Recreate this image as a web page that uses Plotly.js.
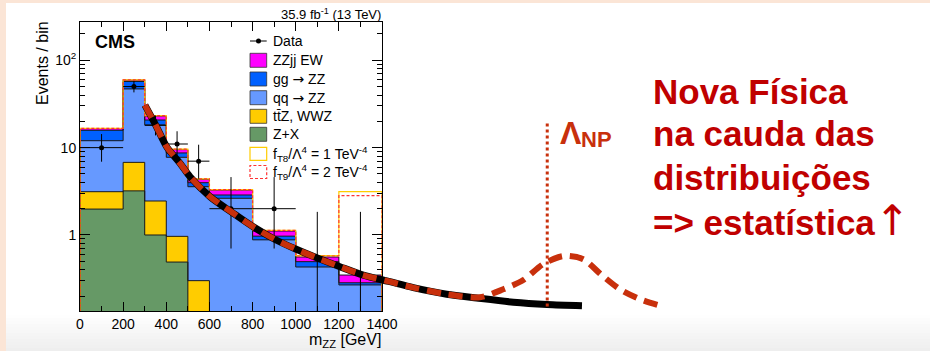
<!DOCTYPE html>
<html>
<head>
<meta charset="utf-8">
<script src="https://cdn.plot.ly/plotly-3.0.1.min.js"></script>
<style>html,body{margin:0;padding:0;background:#fff;}#plot{width:930px;height:351px;}</style>
</head>
<body>
<div id="plot"></div>
<script>
// ---------- data ----------
const binEdges = [0, 200, 300, 400, 500, 600, 800, 1000, 1200, 1400];
// stacked contributions (events / bin), bottom to top
const zPlusX   = [1.98, 3.2, 1.0, 0.49, 0, 0, 0, 0, 0];
const ttZWWZ   = [1.15, 3.58, 1.45, 0.475, 0.30, 0, 0, 0, 0];
const qqZZ     = [8.87, 40.2, 15.75, 6.78, 3.27, 2.63, 0.88, 0.43, 0.268];
const ggZZ     = [3.8, 10.2, 2.5, 0.95, 0.40, 0.24, 0.09, 0.065, 0.016];
const zzjjEW   = [0.7, 2.1, 2.3, 0.8, 0.37, 0.40, 0.14, 0.065, 0.064];
// aTGC signal hypotheses (total prediction)
const fT8      = [16.6, 59.5, 23.2, 9.6, 4.4, 3.3, 1.13, 0.58, 3.13];
const fT9      = [16.6, 59.5, 23.2, 9.6, 4.4, 3.3, 1.13, 0.575, 2.82];
// data
const dataX    = [100, 250, 350, 450, 550, 700, 900, 1100, 1300];
const dataY    = [10, 50, 18, 11, 7, 2, 2, 0, 0];
const dataErrUp= [4.3, 8.1, 5.3, 4.4, 3.8, 2.6, 2.6, 1.84, 1.84];
const dataErrDn= [3.1, 7.1, 4.2, 3.3, 2.6, 1.3, 1.3, 0, 0];
// hand-drawn overlay curves (m_ZZ in GeV, events)
const smX = [301, 355, 402, 464, 510, 603, 711, 803, 900, 1000, 1100, 1205, 1313, 1437, 1545, 1700, 1839, 2009, 2165, 2327];
const smY = [30.6, 17.3, 10.2, 6.6, 4.64, 2.74, 1.77, 1.24, 0.9, 0.69, 0.545, 0.434, 0.348, 0.292, 0.25, 0.21, 0.19, 0.17, 0.16, 0.155];
const npX = [301, 355, 402, 464, 510, 603, 711, 803, 900, 1000, 1100, 1205, 1313, 1437, 1545, 1700, 1854, 1962, 2055, 2148, 2241, 2333, 2418, 2503, 2596, 2678];
const npY = [30.6, 17.3, 10.2, 6.6, 4.64, 2.74, 1.77, 1.24, 0.9, 0.69, 0.545, 0.434, 0.348, 0.292, 0.25, 0.21, 0.194, 0.239, 0.305, 0.466, 0.575, 0.527, 0.348, 0.239, 0.184, 0.158];
const lambdaNP = 2166;
const lambdaLine = [0.152, 19.7];
const xTicks = [0, 200, 400, 600, 800, 1000, 1200, 1400];
const yTicks = [1, 10, 100];
const yTickText = ['1', '10', '10<sup>2</sup>'];
const ARW = (t, extra) => '<span style="font-family:DejaVu Sans' + (extra || '') + '">' + t + '</span>';
const legendLabels = ['Data', 'ZZjj EW', 'gg ' + ARW('\u2192') + ' ZZ', 'qq ' + ARW('\u2192') + ' ZZ', 'tt\u0304Z, WWZ', 'Z+X',
  'f<sub>T8</sub>/\u039B<sup>4</sup> = 1 TeV<sup>-4</sup>', 'f<sub>T9</sub>/\u039B<sup>4</sup> = 2 TeV<sup>-4</sup>'];
const slideLines = ['<b>Nova Física</b>', '<b>na cauda das</b>', '<b>distribuições</b>', '<b>=> estatística</b>' + ARW('\u2191', ';font-size:42px')];

// ---------- styling ----------
const FONT = 'Liberation Sans, Arial, Helvetica, sans-serif';
const C = {ew:'#ff00ff', gg:'#0060ff', qq:'#6699ff', ttz:'#ffcc00', zx:'#669966',
  sig8:'#ffcc00', sig9:'#ff3333', dark:'#1a1a1a', np:'#c8300c', red:'#c00000'};

// ---------- geometry helpers ----------
const W = 930, H = 351, L = 80, T = 22, B = 40;
const plotW = 302;           // pixel width of the 0..1400 axis
const paperW = W - L, paperH = H - T - B;
const P = px => (px - L) / paperW;
const Q = py => (H - B - py) / paperH;

const centers = [], widths = [];
for (let i = 0; i < binEdges.length - 1; i++) {
  centers.push((binEdges[i] + binEdges[i+1]) / 2);
  widths.push(binEdges[i+1] - binEdges[i]);
}
const layers = [zPlusX, ttZWWZ, qqZZ, ggZZ, zzjjEW];
const cum = [];
let run = new Array(centers.length).fill(0);
layers.forEach(l => { run = run.map((v, i) => v + l[i]); cum.push(run.slice()); });
const layerColors = [C.zx, C.ttz, C.qq, C.gg, C.ew];

const TINY = 1e-3;
function step(vals) {
  const x = [binEdges[0]], y = [TINY];
  vals.forEach((v, i) => { x.push(binEdges[i]); y.push(v > 0.005 ? v : TINY); });
  x.push(binEdges[binEdges.length - 1]); y.push(vals[vals.length - 1] > 0.005 ? vals[vals.length - 1] : TINY);
  x.push(binEdges[binEdges.length - 1]); y.push(TINY);
  return {x, y};
}

const traces = [];
// filled stack (tallest first)
for (let k = layers.length - 1; k >= 0; k--) {
  traces.push({type:'bar', x:centers, y:cum[k].map(v => v > 0.005 ? v : null), width:widths,
    marker:{color:layerColors[k], line:{width:0}}, hoverinfo:'skip', xaxis:'x', yaxis:'y'});
}
// stack outlines
for (let k = 0; k < layers.length; k++) {
  const s = step(cum[k]);
  traces.push({type:'scatter', mode:'lines', x:s.x, y:s.y, line:{color:C.dark, width:1, shape:'hv'},
    hoverinfo:'skip', xaxis:'x', yaxis:'y'});
}
// signal outlines
const s8 = step(fT8), s9 = step(fT9);
traces.push({type:'scatter', mode:'lines', x:s8.x, y:s8.y, line:{color:C.sig8, width:1.2, shape:'hv'}, xaxis:'x', yaxis:'y'});
traces.push({type:'scatter', mode:'lines', x:s9.x, y:s9.y, line:{color:C.sig9, width:1.2, shape:'hv', dash:'3px,2px'}, xaxis:'x', yaxis:'y'});
// data
const idx = dataY.map((v, i) => i).filter(i => dataY[i] > 0);
traces.push({type:'scatter', mode:'markers',
  x: idx.map(i => dataX[i]), y: idx.map(i => dataY[i]),
  marker:{color:'#000', size:5},
  error_x:{type:'data', array: idx.map(i => widths[i] / 2), width:0, thickness:1, color:'#000'},
  error_y:{type:'data', symmetric:false, array: idx.map(i => dataErrUp[i]), arrayminus: idx.map(i => dataErrDn[i]), width:0, thickness:1, color:'#000'},
  xaxis:'x', yaxis:'y'});
const zx = [], zy = [];
dataY.forEach((v, i) => { if (v === 0) { zx.push(dataX[i], dataX[i], null); zy.push(TINY, dataErrUp[i], null); } });
traces.push({type:'scatter', mode:'lines', x:zx, y:zy, line:{color:'#000', width:1}, xaxis:'x', yaxis:'y'});
// overlay curves on a wider x scale with identical GeV/pixel
traces.push({type:'scatter', mode:'lines', x:smX, y:smY, line:{color:'#000', width:7, shape:'spline', smoothing:0.8}, xaxis:'x2', yaxis:'y'});
traces.push({type:'scatter', mode:'lines', x:npX, y:npY, line:{color:C.np, width:6, shape:'spline', smoothing:0.8, dash:'14px,8px'}, xaxis:'x2', yaxis:'y'});
traces.push({type:'scatter', mode:'lines', x:[lambdaNP, lambdaNP], y:lambdaLine, line:{color:C.np, width:3, dash:'dot'}, xaxis:'x2', yaxis:'y'});

// ---------- shapes ----------
const shapes = [];
function rectPx(x0, y0, x1, y1, fill, line, layer) {
  shapes.push({type:'rect', xref:'paper', yref:'paper', x0:P(x0), x1:P(x1), y0:Q(y1), y1:Q(y0),
    fillcolor:fill, line: line || {width:0}, layer: layer || 'above'});
}
// slide background details
for (let i = 0; i < 12; i++) {
  const y0 = 315 + i * 3;
  const g = Math.round(255 - (i + 1) * 1.4);
  rectPx(0, y0, W, y0 + 3.2, 'rgb(' + g + ',' + g + ',' + g + ')', null, 'below');
}
rectPx(0, 0, W, 3, '#fbe5d6', null, 'below');
rectPx(0, 0, 6, H, '#fbe5d6', null, 'below');

// legend
const legX0 = 250, legX1 = 266.7, legTextX = 271;
const legY = [41, 60.3, 79, 97.7, 116.3, 134.3, 153.8, 172];
const legFill = [null, C.ew, C.gg, C.qq, C.ttz, C.zx, '#fff', '#fff'];
legY.forEach((y, i) => {
  if (i === 0) {
    shapes.push({type:'line', xref:'paper', yref:'paper', x0:P(legX0), x1:P(legX1), y0:Q(y), y1:Q(y), line:{color:'#000', width:1}});
    shapes.push({type:'circle', xref:'paper', yref:'paper', x0:P(258.5-2.5), x1:P(258.5+2.5), y0:Q(y+2.5), y1:Q(y-2.5), fillcolor:'#000', line:{width:0}});
  } else if (i === 6) {
    rectPx(legX0, y - 6.5, legX1, y + 6.5, '#fff', {color:C.sig8, width:1.2});
  } else if (i === 7) {
    rectPx(legX0, y - 6.5, legX1, y + 6.5, '#fff', {color:C.sig9, width:1.2, dash:'3px,2px'});
  } else {
    rectPx(legX0, y - 7, legX1, y + 7, legFill[i], {color:'#333', width:0.8});
  }
});

// ---------- annotations ----------
const ann = [];
function txt(text, px, py, opt) {
  ann.push(Object.assign({text, xref:'paper', yref:'paper', x:P(px), y:Q(py), xanchor:'left', yanchor:'middle',
    showarrow:false, font:{family:FONT, size:14, color:'#000'}}, opt || {}));
}
legendLabels.forEach((t, i) => txt(t, legTextX, legY[i]));
txt('<b>CMS</b>', 93, 42, {font:{family:FONT, size:18, color:'#000'}});
txt('35.9 fb<sup>-1</sup> (13 TeV)', 383, 13.5, {xanchor:'right', font:{family:FONT, size:13, color:'#000'}});
txt('Events / bin', 43, 63, {xanchor:'center', textangle:-90, font:{family:FONT, size:16, color:'#000'}});
txt('m<sub>ZZ</sub> [GeV]', 383, 340, {xanchor:'right', font:{family:FONT, size:16, color:'#000'}});
const lineY = [91, 133, 177.5, 220];
slideLines.forEach((t, i) => txt(t, 651, lineY[i], {font:{family:FONT, size:35, color:C.red}}));
txt('<b>\u039B</b>', 558, 133, {font:{family:FONT, size:32, color:C.np}});
txt('<b>NP</b>', 579, 139, {font:{family:FONT, size:22, color:C.np}});

// ---------- layout ----------
const minorY = [];
[0.1, 1, 10, 100].forEach(d => { for (let m = 2; m <= 9; m++) minorY.push(m * d); });

const layout = {
  width: W, height: H,
  margin: {l:L, r:0, t:T, b:B, pad:0},
  paper_bgcolor:'#fff', plot_bgcolor:'rgba(0,0,0,0)',
  showlegend:false, barmode:'overlay', bargap:0,
  font:{family:FONT, color:'#000'},
  xaxis: {domain:[0, plotW / paperW], range:[0, 1400], anchor:'y',
    tickmode:'array', tickvals:xTicks, ticks:'inside', ticklen:9, tickcolor:'#000', tickwidth:1,
    minor:{dtick:100, tick0:0, ticks:'inside', ticklen:5, tickcolor:'#000'},
    showline:true, linecolor:'#000', linewidth:1, mirror:'ticks', showgrid:false, zeroline:false,
    tickfont:{family:FONT, size:14, color:'#000'}},
  xaxis2: {domain:[0, 1], range:[0, 1400 * paperW / plotW], anchor:'y', visible:false, showgrid:false, zeroline:false},
  yaxis: {type:'log', range:[-0.87, 2.438], anchor:'x',
    tickmode:'array', tickvals:yTicks, ticktext:yTickText, ticks:'inside', ticklen:10, tickcolor:'#000',
    minor:{tickmode:'array', tickvals:minorY, ticks:'inside', ticklen:5, tickcolor:'#000'},
    showline:true, linecolor:'#000', linewidth:1, mirror:'ticks', showgrid:false, zeroline:false,
    tickfont:{family:FONT, size:14, color:'#000'}},
  shapes, annotations: ann
};

Plotly.newPlot('plot', traces, layout, {staticPlot:true, displayModeBar:false});
</script>
</body>
</html>
